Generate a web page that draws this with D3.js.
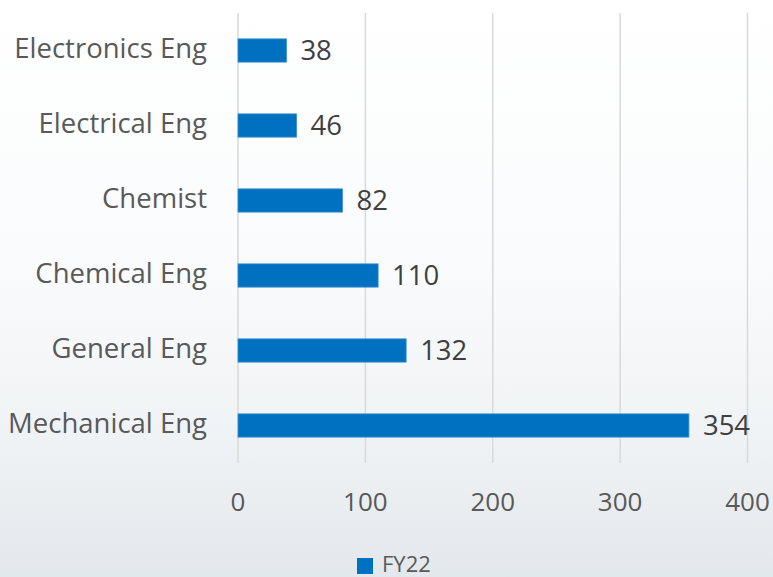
<!DOCTYPE html>
<html><head><meta charset="utf-8">
<script src="https://cdn.jsdelivr.net/npm/d3@7"></script>
<style>html,body{margin:0;padding:0;overflow:hidden;}</style>
</head><body>
<script>
const categories = ["Electronics Eng","Electrical Eng","Chemist","Chemical Eng","General Eng","Mechanical Eng"];
const values = [38, 46, 82, 110, 132, 354];
const xTicks = [0, 100, 200, 300, 400];
const seriesName = "FY22";

const W = 773, H = 577;
const font = "'Open Sans', Lato, sans-serif";
const svg = d3.select("body").append("svg").attr("width", W).attr("height", H);
const defs = svg.append("defs");
const g = defs.append("linearGradient").attr("id","bg").attr("x1",0).attr("y1",0).attr("x2",0).attr("y2",1);
g.append("stop").attr("offset","0%").attr("stop-color","#ffffff");
g.append("stop").attr("offset","45%").attr("stop-color","#fafbfc");
g.append("stop").attr("offset","75%").attr("stop-color","#f0f3f5");
g.append("stop").attr("offset","100%").attr("stop-color","#e3e8ec");
svg.append("rect").attr("width",W).attr("height",H).attr("fill","url(#bg)");

const x = d3.scaleLinear().domain([0, 400]).range([238, 747.5]);
const y = d3.scaleBand().domain(categories).range([13, 463]).paddingInner(0.69).paddingOuter(0.345);

svg.append("g").selectAll("line").data(xTicks).join("line")
  .attr("x1", d => x(d)).attr("x2", d => x(d)).attr("y1", 13).attr("y2", 463)
  .attr("stroke", "#d9d9d9").attr("stroke-width", 1.5);

svg.append("g").selectAll("rect").data(values).join("rect")
  .attr("x", x(0)).attr("y", (d,i) => y(categories[i]))
  .attr("width", d => x(d) - x(0)).attr("height", y.bandwidth())
  .attr("fill", "#0070c0").attr("stroke", "#3a8fd0").attr("stroke-width", 0.8);

const fs = 27.5;
svg.append("g").selectAll("text").data(values).join("text")
  .attr("x", d => x(d) + 14).attr("y", (d,i) => y(categories[i]) + y.bandwidth()/2 + 2)
  .attr("dominant-baseline","middle")
  .attr("font-family", font).attr("font-size", fs).attr("fill", "#404040")
  .text(d => d);

svg.append("g").selectAll("text").data(categories).join("text")
  .attr("x", 207).attr("y", d => y(d) + y.bandwidth()/2)
  .attr("text-anchor","end").attr("dominant-baseline","middle")
  .attr("font-family", font).attr("font-size", fs).attr("fill", "#595959")
  .text(d => d);

svg.append("g").selectAll("text").data(xTicks).join("text")
  .attr("x", d => x(d)).attr("y", 504)
  .attr("text-anchor","middle").attr("dominant-baseline","middle")
  .attr("font-family", font).attr("font-size", 26).attr("fill", "#595959")
  .text(d => d);

svg.append("rect").attr("x", 357).attr("y", 558).attr("width", 16).attr("height", 16).attr("fill", "#0070c0");
svg.append("text").attr("x", 382).attr("y", 566).attr("dominant-baseline","middle")
  .attr("font-family", font).attr("font-size", 22).attr("fill", "#595959").text(seriesName);
</script>
</body></html>
